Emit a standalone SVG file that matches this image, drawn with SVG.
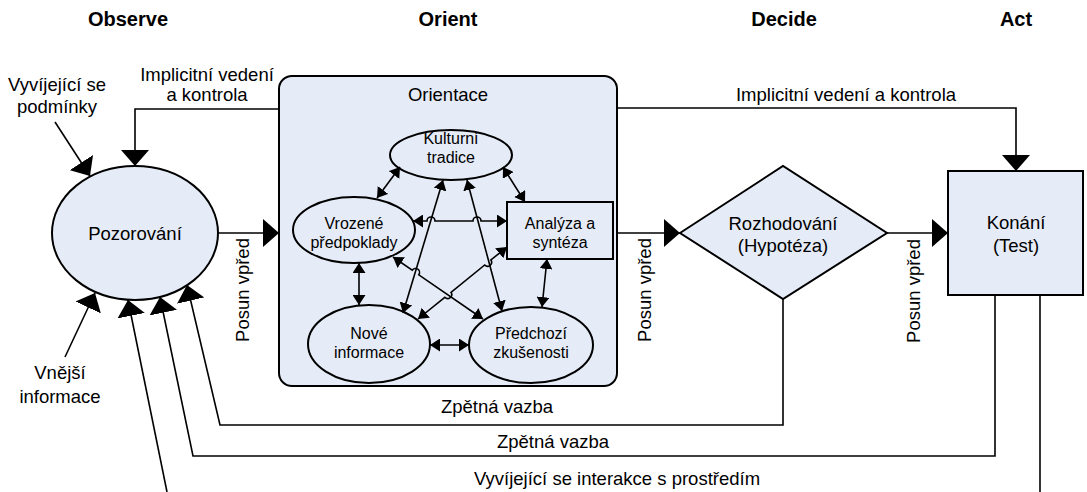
<svg xmlns="http://www.w3.org/2000/svg" width="1087" height="492" viewBox="0 0 1087 492">
<style>
text{font-family:"Liberation Sans",Arial,sans-serif;fill:#000}
.h{font-size:20px;font-weight:bold;text-anchor:middle}
.t{font-size:18.5px;text-anchor:middle}
.s{font-size:16px;text-anchor:middle}
.shape{fill:#e6ecf7;stroke:#000;stroke-width:2}
.c{fill:none;stroke:#000;stroke-width:1.6}
.big{marker-end:url(#ab)}
.dbl{marker-start:url(#as);marker-end:url(#as)}
</style>
<defs>
<marker id="ab" markerUnits="userSpaceOnUse" viewBox="0 0 16 28" markerWidth="16" markerHeight="28" refX="16" refY="14" orient="auto"><path d="M0,0 L16,14 L0,28 z" fill="#000"/></marker>
<marker id="as" markerUnits="userSpaceOnUse" viewBox="0 0 10 13" markerWidth="10" markerHeight="13" refX="10" refY="6.5" orient="auto-start-reverse"><path d="M0,0 L10,6.5 L0,13 z" fill="#000"/></marker>
</defs>
<rect width="1087" height="492" fill="#fff"/>

<g id="headers">
<text class="h" x="128" y="26">Observe</text>
<text class="h" x="448" y="26">Orient</text>
<text class="h" x="784" y="26">Decide</text>
<text class="h" x="1016" y="26">Act</text>
</g>

<g id="orient">
<rect class="shape" x="279" y="76" width="338" height="310" rx="13"/>
<text class="t" x="448" y="101">Orientace</text>
</g>
<g id="pozorovani">
<ellipse class="shape" cx="135" cy="233" rx="83" ry="67"/>
<text class="t" x="135" y="240">Pozorování</text>
</g>
<g id="kulturni">
<ellipse class="shape" cx="451" cy="155" rx="61" ry="25"/>
<text class="s" x="451" y="144">Kulturní</text>
<text class="s" x="451" y="163">tradice</text>
</g>
<g id="vrozene">
<ellipse class="shape" cx="354" cy="230" rx="61" ry="33"/>
<text class="s" x="354" y="229">Vrozené</text>
<text class="s" x="354" y="248">předpoklady</text>
</g>
<g id="analyza">
<rect class="shape" x="507" y="202" width="106" height="57"/>
<text class="s" x="560" y="229">Analýza a</text>
<text class="s" x="560" y="248">syntéza</text>
</g>
<g id="nove">
<ellipse class="shape" cx="369" cy="344" rx="61" ry="39"/>
<text class="s" x="369" y="339">Nové</text>
<text class="s" x="369" y="358">informace</text>
</g>
<g id="predchozi">
<ellipse class="shape" cx="531" cy="345" rx="62" ry="38"/>
<text class="s" x="531" y="339">Předchozí</text>
<text class="s" x="531" y="358">zkušenosti</text>
</g>
<g id="rozhodovani">
<polygon class="shape" points="680,233 783,166 887,233 783,299"/>
<text class="t" x="783" y="230">Rozhodování</text>
<text class="t" x="783" y="252">(Hypotéza)</text>
</g>
<g id="konani">
<rect class="shape" x="948" y="171" width="135" height="124"/>
<text class="t" x="1016" y="229">Konání</text>
<text class="t" x="1016" y="252">(Test)</text>
</g>

<g id="connectors">
<path class="c big" d="M218,233 H279"/>
<path class="c big" d="M617,233 H680"/>
<path class="c big" d="M887,233 H948"/>
<path class="c big" d="M617,108 H1016 V171"/>
<path class="c big" d="M279,109 H135 V166"/>
<path class="c big" d="M55,122 L90,176"/>
<path class="c big" d="M65,357 L95,293"/>
<path class="c big" d="M167,492 L128,300"/>
<path class="c big" d="M995,295 V456 H193 L160,297"/>
<path class="c big" d="M783,299 V425 H220 L187,285"/>
<path class="c" d="M1040,295 V492"/>

<path class="c dbl" d="M400,167 L377,198"/>
<path class="c dbl" d="M503,167 L525,202"/>
<path class="c dbl" d="M413,221 H427 A4,4 0 0 1 435,221 H473 A4,4 0 0 1 481,221 H507"/>
<path class="c dbl" d="M359,263 V305"/>
<path class="c dbl" d="M430,345 H469"/>
<path class="c dbl" d="M547,259 L542,307"/>
<path class="c dbl" d="M443,180 L403,313"/>
<path class="c dbl" d="M467,180 L502,311"/>
<path class="c dbl" d="M393,257 L412.2,270.2 A4,4 0 0 1 418.8,274.8 L483,319"/>
<path class="c dbl" d="M507,247 L490.9,260 A4,4 0 0 1 484.7,265 L451,292.3 A4,4 0 0 1 444.8,297.3 L418,319"/>
</g>

<g id="labels">
<text class="t" x="57" y="91">Vyvíjející se</text>
<text class="t" x="57" y="113">podmínky</text>
<text class="t" x="207" y="81">Implicitní vedení</text>
<text class="t" x="207" y="101">a kontrola</text>
<text class="t" x="846" y="101">Implicitní vedení a kontrola</text>
<text class="t" x="60" y="379">Vnější</text>
<text class="t" x="60" y="403">informace</text>
<text class="t" transform="translate(249,290) rotate(-90)">Posun vpřed</text>
<text class="t" transform="translate(651,290) rotate(-90)">Posun vpřed</text>
<text class="t" transform="translate(920,291) rotate(-90)">Posun vpřed</text>
<text class="t" x="497" y="413">Zpětná vazba</text>
<text class="t" x="553" y="448">Zpětná vazba</text>
<text class="t" x="617" y="485">Vyvíjející se interakce s prostředím</text>
</g>
</svg>
